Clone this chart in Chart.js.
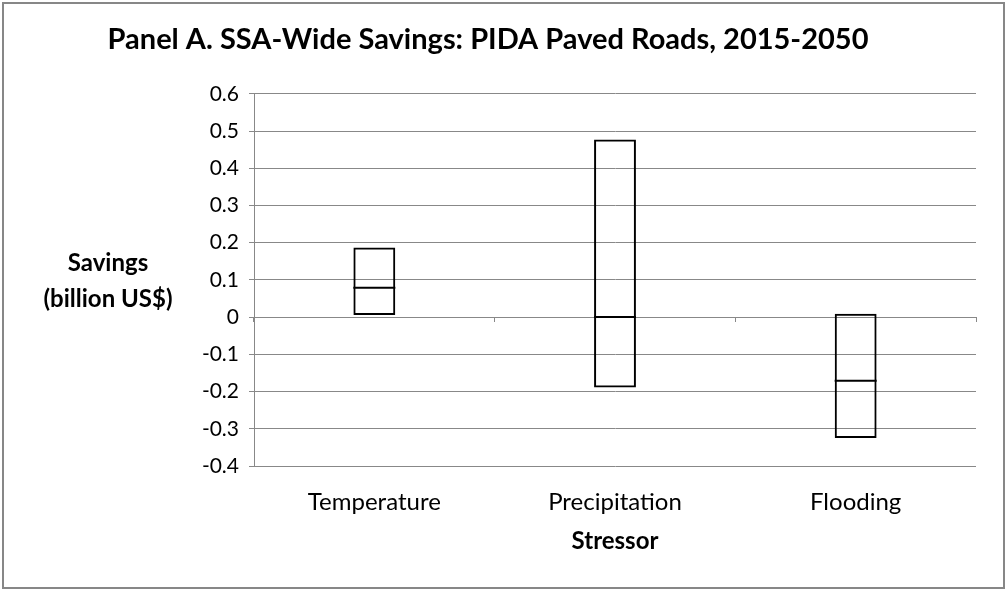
<!DOCTYPE html>
<html>
<head>
<meta charset="utf-8">
<script src="https://cdn.jsdelivr.net/npm/chart.js@4/dist/chart.umd.min.js"></script>
<style>
  html, body { margin: 0; padding: 0; background: #fff; }
  #wrap { width: 1006px; height: 590px; }
</style>
</head>
<body>
<div id="wrap"><canvas id="chart" width="1006" height="590"></canvas></div>
<script>
// data
const categories = ['Temperature', 'Precipitation', 'Flooding'];
const lowValues = [0.006, -0.189, -0.325];
const highValues = [0.187, 0.477, 0.009];
const midValues = [0.079, 0.0, -0.171];
const yTickValues = [-0.4, -0.3, -0.2, -0.1, 0, 0.1, 0.2, 0.3, 0.4, 0.5, 0.6];

const FONT = "Lato, 'Open Sans', sans-serif";
const GRID = '#888888';

// outer chart border
const frame = {
  id: 'frame',
  beforeDraw(chart) {
    const ctx = chart.ctx;
    ctx.save();
    ctx.strokeStyle = '#878787';
    ctx.lineWidth = 2;
    ctx.strokeRect(3, 3, chart.width - 5, chart.height - 5);
    ctx.restore();
  },
};

// horizontal y axis title, left of the plot
const yTitle = {
  id: 'yTitle',
  afterDraw(chart) {
    const ctx = chart.ctx;
    const area = chart.chartArea;
    const cy = (area.top + area.bottom) / 2;
    ctx.save();
    ctx.fillStyle = '#000';
    ctx.font = 'bold 24px ' + FONT;
    ctx.textAlign = 'center';
    ctx.textBaseline = 'middle';
    ctx.fillText('Savings', 108, cy - 17);
    ctx.fillText('(billion US$)', 108, cy + 19);
    ctx.restore();
  },
};

new Chart(document.getElementById('chart'), {
  data: {
    labels: categories,
    datasets: [
      {
        type: 'bar',
        label: 'Range',
        data: lowValues.map((lo, i) => [lo, highValues[i]]),
        backgroundColor: 'rgba(0,0,0,0)',
        borderColor: '#000',
        borderWidth: 2,
        borderSkipped: false,
        barPercentage: 0.174,
        categoryPercentage: 1,
        order: 2,
      },
      {
        type: 'line',
        label: 'Mid',
        data: midValues,
        showLine: false,
        pointStyle: 'line',
        pointRadius: 21,
        pointHoverRadius: 21,
        pointBorderWidth: 2,
        pointBorderColor: '#000',
        order: 1,
      },
    ],
  },
  options: {
    responsive: false,
    animation: false,
    layout: { padding: { left: 0, right: 30, top: 0, bottom: 0 } },
    plugins: {
      legend: { display: false },
      tooltip: { enabled: false },
      title: {
        display: true,
        text: 'Panel A. SSA-Wide Savings: PIDA Paved Roads, 2015-2050',
        color: '#000',
        font: { family: FONT, size: 29, weight: 'bold' },
        padding: { top: 22, bottom: 37 },
      },
    },
    scales: {
      x: {
        type: 'category',
        offset: true,
        afterFit: (s) => { s.height = 124; },
        grid: { display: false, drawTicks: false },
        border: { display: false },
        ticks: { color: '#000', padding: 22, font: { family: FONT, size: 24 } },
        title: {
          display: true,
          text: 'Stressor',
          color: '#000',
          font: { family: FONT, size: 24, weight: 'bold' },
          padding: { top: 0, bottom: 34 },
        },
      },
      x0: {
        type: 'category',
        labels: categories,
        position: { y: 0 },
        offset: true,
        grid: { offset: true, drawOnChartArea: false, drawTicks: true, tickLength: 5, color: GRID },
        border: { display: false },
        ticks: { display: false },
      },
      y: {
        min: -0.4,
        max: 0.6,
        afterBuildTicks: (s) => { s.ticks = yTickValues.map(v => ({ value: v })); },
        afterFit: (s) => { s.width = 254; },
        grid: { color: GRID, tickLength: 5 },
        border: { display: true, color: GRID },
        ticks: {
          color: '#000',
          padding: 10,
          font: { family: FONT, size: 21 },
          callback: (v) => (Math.abs(v) < 1e-9 ? '0' : v.toFixed(1)),
        },
      },
    },
  },
  plugins: [frame, yTitle],
});
</script>
</body>
</html>
